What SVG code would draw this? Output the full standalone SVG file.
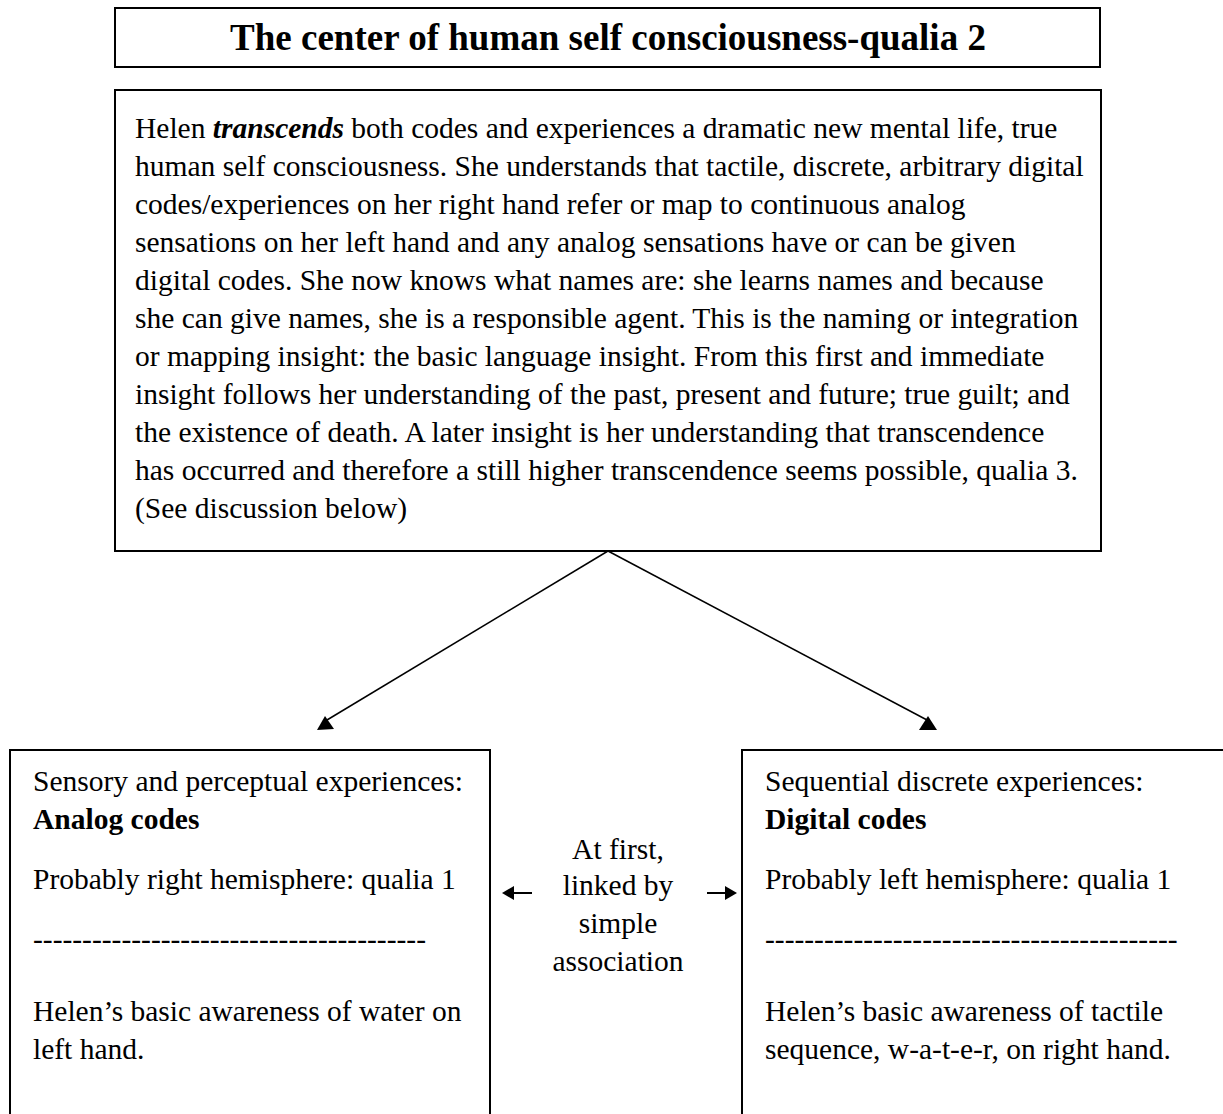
<svg xmlns="http://www.w3.org/2000/svg" width="1223" height="1114" viewBox="0 0 1223 1114">
<style>
.box{fill:#fff;stroke:#000;stroke-width:2}
.t{font-family:"Liberation Serif","Times New Roman",serif;font-size:29.5px;fill:#000}
.b{font-weight:bold}
.c{text-anchor:middle}
.ln{stroke:#000;stroke-width:1.5;fill:none}
</style>
<rect width="1223" height="1114" fill="#fff"/>
<g id="title">
<rect class="box" x="115" y="8" width="985" height="59"/>
<text class="t b c" x="608" y="50" style="font-size:37px">The center of human self consciousness-qualia 2</text>
</g>
<g id="main">
<rect class="box" x="115" y="90" width="986" height="461"/>
<text class="t" x="135">
<tspan x="135" y="138">Helen <tspan font-weight="bold" font-style="italic">transcends</tspan> both codes and experiences a dramatic new mental life, true</tspan>
<tspan x="135" y="176">human self consciousness. She understands that tactile, discrete, arbitrary digital</tspan>
<tspan x="135" y="214">codes/experiences on her right hand refer or map to continuous analog</tspan>
<tspan x="135" y="252">sensations on her left hand and any analog sensations have or can be given</tspan>
<tspan x="135" y="290">digital codes.  She now knows what names are: she learns names and because</tspan>
<tspan x="135" y="328">she can give names, she is a responsible agent. This is the naming or integration</tspan>
<tspan x="135" y="366">or mapping insight: the basic language insight. From this first and immediate</tspan>
<tspan x="135" y="404">insight follows her understanding of the past, present and future; true guilt; and</tspan>
<tspan x="135" y="442">the existence of death. A later insight is her understanding that transcendence</tspan>
<tspan x="135" y="480">has occurred and therefore a still higher transcendence seems possible, qualia 3.</tspan>
<tspan x="135" y="518">(See discussion below)</tspan>
</text>
</g>
<g id="analog">
<path class="ln" d="M10,1114 V750 H490 V1114" style="stroke-width:2"/>
<text class="t" x="33" y="791">Sensory and perceptual experiences:</text>
<text class="t b" x="33" y="829">Analog codes</text>
<text class="t" x="33" y="889">Probably right hemisphere: qualia 1</text>
<text class="t" x="33" y="949">----------------------------------------</text>
<text class="t" x="33" y="1021">Helen’s basic awareness of water on</text>
<text class="t" x="33" y="1059">left hand.</text>
</g>
<g id="digital">
<path class="ln" d="M742,1114 V750 H1223" style="stroke-width:2"/>
<text class="t" x="765" y="791">Sequential discrete experiences:</text>
<text class="t b" x="765" y="829">Digital codes</text>
<text class="t" x="765" y="889">Probably left hemisphere: qualia 1</text>
<text class="t" x="765" y="949">------------------------------------------</text>
<text class="t" x="765" y="1021">Helen’s basic awareness of tactile</text>
<text class="t" x="765" y="1059">sequence, w-a-t-e-r, on right hand.</text>
</g>
<g id="link-label">
<text class="t c" x="618" y="859">At first,</text>
<text class="t c" x="618" y="895">linked by</text>
<text class="t c" x="618" y="933">simple</text>
<text class="t c" x="618" y="971">association</text>
</g>
<g id="connectors">
<line class="ln" x1="608" y1="551" x2="327" y2="720"/>
<polygon points="317,730 334,729 325,716" fill="#000"/>
<line class="ln" x1="608" y1="551" x2="927" y2="720"/>
<polygon points="919,730 937,730 928,716" fill="#000"/>
<line class="ln" x1="510" y1="893" x2="532" y2="893" style="stroke-width:2"/>
<polygon points="502,893 514,886 514,900" fill="#000"/>
<line class="ln" x1="707" y1="893" x2="729" y2="893" style="stroke-width:2"/>
<polygon points="737,893 725,886 725,900" fill="#000"/>
</g>
</svg>
